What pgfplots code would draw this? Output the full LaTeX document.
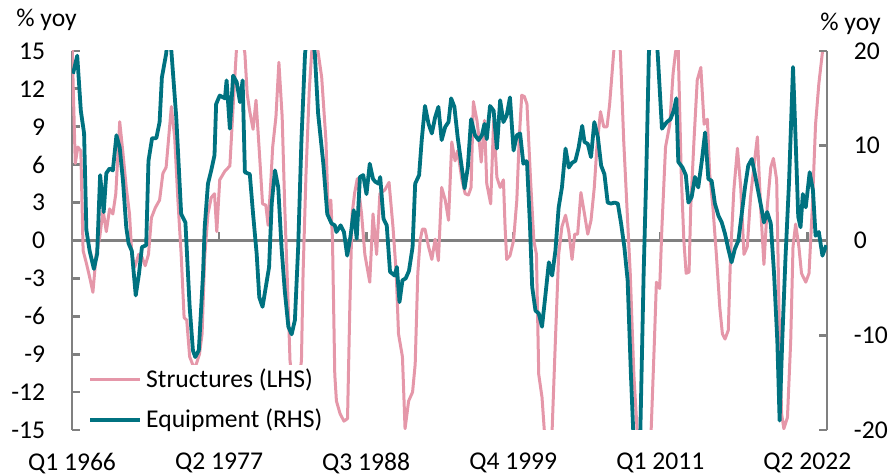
\documentclass[border=0pt]{standalone}
\usepackage{fontspec}
\setmainfont{Carlito}
\usepackage{pgfplots}
\pgfplotsset{compat=1.18}
\definecolor{structpink}{RGB}{229,151,169}
\definecolor{equipteal}{RGB}{0,114,128}
\definecolor{axgray}{RGB}{128,128,128}
\newcommand\fs{\fontsize{12.8pt}{15.4pt}\selectfont}

% x = quarters since Q1 1966
\pgfplotsset{
  base/.style={
    scale only axis, width=377.5pt, height=189.5pt,
    xmin=0, xmax=231,
    tick label style={font=\fs},
  },
}

\begin{document}
\fs
\begin{tikzpicture}
  % zero line with small ticks
  \begin{axis}[
      base, ymin=-1, ymax=1,
      axis x line=middle, axis y line=none,
      x axis line style={-, axgray, line width=1.75pt},
      xtick={45,90,135,180,225}, xticklabels={},
      major tick length=4pt,
      xtick style={axgray, line width=1.4pt, yshift=2pt},
    ]
  \end{axis}

  % structures, left axis
  \begin{axis}[
      base, name=ax,
      axis y line*=left, axis x line*=bottom,
      x axis line style={draw=none},
      xtick={0,45,90,135,180,225},
      xticklabels={Q1 1966,Q2 1977,Q3 1988,Q4 1999,Q1 2011,Q2 2022},
      xtick style={draw=none},
      xticklabel style={yshift=-7pt},
      ymin=-15, ymax=15,
      ytick={-15,-12,-9,-6,-3,0,3,6,9,12,15},
      yticklabels={-15,-12,-9,-6,-3,0,3,6,9,12,15},
      y axis line style={-, axgray, line width=1.4pt},
      ytick style={axgray, line width=1.4pt},
      tick align=inside, major tick length=4pt,
      yticklabel style={xshift=-9pt},
    ]
    \addplot[structpink, line width=1.5pt, line join=round] coordinates {
      (0,15.8)(1.0,6.1)(1.8,7.4)(2.7,7.1)(3.4,-0.8)(4.4,-1.8)(5.4,-2.9)(6.4,-4.1)
      (7.4,-1.1)(8.5,0.3)(9.5,2.4)(10.5,0.7)(11.5,2.5)(12.5,2.1)(13.4,3.7)(14.6,9.4)
      (15.6,6.9)(16.6,4.2)(17.6,2.1)(18.3,-1.1)(19.2,-2.1)(20.4,-1.1)(21.4,-1.3)
      (22.4,-2.0)(23.4,-1.1)(24.3,1.8)(25.5,2.6)(26.8,3.2)(27.8,5.3)(28.8,5.8)
      (30.4,10.6)(31.4,8.2)(32.4,3.2)(33.4,-1.1)(34.3,-6.1)(35.1,-6.3)(36.0,-9.2)
      (37.5,-10.2)(39.0,-9.0)(39.8,-7.4)(40.6,-1.3)(41.6,2.1)(42.6,3.4)(43.6,3.7)
      (44.3,0.7)(45.2,4.8)(46.8,5.5)(48.3,5.9)(49.3,10.6)(50.4,15.5)(51.2,17.5)
      (52.9,14.8)(53.6,11.6)(54.4,10.2)(55.4,8.8)(56.3,11.1)(57.3,7.1)(58.3,2.9)
      (59.3,2.8)(60.0,1.2)(60.8,4.5)(61.4,7.4)(62.4,9.8)(63.3,14.1)(64.3,9.8)
      (65.1,2.6)(66.0,-4.0)(66.7,-9.5)(68.4,-13.5)(70.2,-9.5)(70.7,-2.6)(71.6,5.3)
      (72.6,11.9)(73.3,14.8)(74.3,17.5)(75.3,14.9)(76.4,12.9)(77.7,7.9)(78.4,2.1)
      (79.2,3.2)(79.7,0)(80.4,-10.6)(80.9,-12.7)(82.0,-13.7)(83.2,-14.3)(84.3,-14.1)
      (85.0,-5.3)(85.7,2.1)(86.5,3.8)(87.3,4.9)(88.6,2.1)(89.6,-1.1)(91.1,-3.3)
      (92.1,2.1)(93.2,-1.1)(94.2,3.7)(95.7,4.0)(97.0,4.6)(98.2,1.1)(99.2,-2.6)
      (99.9,-7.4)(101.1,-9.2)(101.9,-14.9)(103.0,-12.7)(104.2,-12.0)(105.0,-9.8)
      (105.8,-2.6)(106.5,0)(107.2,0.9)(108.0,0.9)(109.1,-0.5)(110.1,-1.5)(111.1,0.1)
      (112.1,-1.6)(113.1,4.2)(114.2,3.2)(115.2,1.6)(116.2,7.8)(117.2,6.3)(118.0,7.1)
      (119.3,4.8)(120.3,3.7)(121.3,3.6)(122.1,4.2)(122.8,11.0)(123.9,9.5)(124.4,8.4)
      (125.2,6.2)(126.2,9.5)(126.9,4.5)(128.1,2.9)(129.0,9.5)(130.0,5.0)(131.0,4.2)
      (132.0,4.8)(132.5,1.1)(133.0,-1.5)(134.0,-1.2)(135.1,0)(136.1,3.2)(136.8,7.9)
      (137.6,11.5)(138.4,11.4)(139.2,10.8)(140.3,4.8)(141.3,0)(142.1,-1.1)
      (142.8,-10.6)(143.8,-12.4)(144.5,-15)(145.7,-17)(146.9,-15)(147.9,-7.9)
      (148.9,-1.1)(149.9,1.1)(151.0,2.0)(152.0,0.7)(153.0,-1.5)(153.8,0.5)(154.7,0.5)
      (155.7,3.8)(156.8,2.1)(157.8,0.5)(158.8,1.6)(159.8,4.2)(160.6,7.4)(161.7,10.2)
      (162.7,9.0)(163.7,9.0)(164.5,10.8)(165.7,14.8)(166.8,18)(167.8,14.8)(168.8,7.9)
      (169.8,2.6)(170.8,-2.6)(171.9,-10.6)(172.9,-15)(175.0,-21)(177.2,-15)
      (178.2,-7.9)(178.8,-3.3)(179.8,-3.8)(180.5,1.1)(181.6,7.4)(182.9,9.2)
      (183.9,13.2)(184.6,14.8)(185.4,16)(186.4,5.3)(187.2,0)(187.9,-2.6)(188.8,-2.5)
      (189.3,2.6)(190.3,7.9)(191.3,12.7)(192.4,13.7)(193.4,9.2)(194.4,9.6)(195.1,5.3)
      (196.1,2.6)(197.2,-1.3)(198.2,-5.3)(199.0,-7.4)(199.8,-7.8)(200.8,-7.1)
      (201.5,-1.1)(202.5,4.0)(203.6,7.3)(204.6,4.2)(205.6,-1.1)(206.6,-0.5)(207.6,3.4)
      (208.6,5.8)(209.7,8.2)(210.7,2.6)(211.7,-1.9)(212.7,2.6)(213.8,5.8)(214.6,6.5)
      (215.6,4.8)(216.3,-5.3)(217.1,-13.7)(217.8,-14.9)(218.9,-14.0)(219.9,-7.9)
      (220.6,-0.5)(221.4,1.3)(222.4,-0.5)(223.2,-2.6)(224.5,-3.3)(225.5,-2.6)
      (226.5,2.6)(227.5,9.2)(228.5,12.4)(229.6,14.9)(231,17.5)
    };
  \end{axis}

  % equipment, right axis
  \begin{axis}[
      base,
      axis y line*=right, axis x line=none,
      ymin=-20, ymax=20,
      ytick={-20,-10,0,10,20}, yticklabels={-20,-10,0,10,20},
      y axis line style={-, axgray, line width=1.4pt},
      ytick style={axgray, line width=1.4pt},
      tick align=inside, major tick length=4pt,
      yticklabel style={xshift=9pt},
      legend cell align=left,
      legend image code/.code={\draw[#1] (0pt,0pt) -- (25pt,0pt);},
      legend style={at={(axis description cs:0,0.187)}, anchor=north west,
        xshift=8pt, yshift=-2.5pt, fill=white, draw=none, inner sep=0pt,
        row sep=5pt, nodes={inner xsep=2pt}, font=\fs},
    ]
    \addlegendimage{structpink, line width=1.6pt}
    \addlegendentry{Structures (LHS)}
    \addplot[equipteal, line width=1.9pt, line join=round] coordinates {
      (0.3,17.6)(1.6,19.5)(2.7,13.7)(3.7,11.3)(4.4,1.1)(5.4,-1.1)(6.7,-3.0)(7.7,-1.4)
      (8.6,6.9)(9.7,3.0)(10.5,7.1)(11.5,7.6)(12.5,7.4)(13.6,11.1)(14.6,9.8)(15.6,6.3)
      (16.6,1.4)(17.3,-0.3)(18.3,-1.1)(19.5,-5.8)(20.5,-3.5)(21.4,-0.7)(22.7,-0.5)
      (23.4,8.4)(24.5,10.8)(25.8,10.8)(26.8,12.5)(27.5,17.2)(28.8,19.7)(29.6,22.5)
      (30.4,20.0)(31.9,13.0)(33.4,2.8)(34.7,1.9)(36.0,-7.0)(37.0,-11.6)(37.7,-12.3)
      (38.8,-11.6)(40.1,-3.5)(40.6,1.4)(41.6,6.0)(42.6,7.4)(43.6,9.0)(44.1,14.4)
      (45.2,15.3)(46.8,15.0)(47.3,16.9)(48.3,11.8)(49.3,17.4)(50.4,16.7)(51.4,14.6)
      (52.2,16.9)(52.9,7.2)(54.4,7.0)(55.4,2.8)(56.5,-1.4)(57.3,-6.0)(58.3,-7.0)
      (60.3,-2.8)(61.1,3.9)(62.1,7.4)(63.1,5.6)(64.1,-0.7)(65.1,-5.3)(66.2,-9.1)
      (67.2,-9.9)(68.2,-8.4)(69.2,-0.7)(70.2,10.6)(71.3,19.7)(72.7,24)(74.3,19.7)
      (75.3,13.4)(76.9,8.1)(78.1,2.8)(79.4,1.8)(80.4,1.6)(80.9,0.9)(82.2,1.6)(83.2,0.9)
      (84.2,-1.6)(85.2,0.4)(86.2,3.2)(87.1,0.2)(88.1,6.7)(89.1,6.9)(90.1,4.9)(91.1,8.1)
      (92.1,6.5)(92.8,6.2)(93.8,6.0)(94.3,6.7)(95.3,2.3)(96.3,1.6)(97.3,-3.3)(98.7,-3.7)
      (99.4,-2.8)(100.2,-6.5)(101.1,-4.2)(102.1,-4.0)(103.1,-3.2)(104.2,-0.7)(105.0,6.0)
      (106.2,6.9)(107.0,10.6)(108.0,14.2)(109.1,12.3)(110.1,11.3)(111.1,13.0)
      (112.1,14.1)(113.1,10.6)(114.2,12.0)(115.2,12.5)(116.0,15.0)(117.0,14.1)
      (118.0,10.9)(119.1,8.1)(120.1,5.5)(121.1,7.7)(122.1,12.8)(123.3,11.1)(124.4,10.6)
      (125.4,11.1)(126.2,12.3)(126.9,10.7)(127.9,14.2)(129.0,13.7)(130.0,9.7)
      (131.0,14.8)(132.0,12.5)(133.0,13.2)(134.0,15.1)(135.1,9.5)(136.1,11.1)
      (137.1,11.3)(138.1,8.1)(138.8,8.4)(139.2,8.3)(140.1,1.8)(140.8,-4.9)(141.8,-7.4)
      (142.8,-7.7)(143.8,-9.1)(144.9,-5.6)(145.9,-2.3)(146.9,-3.7)(147.9,-1.1)
      (148.9,3.5)(149.9,5.6)(151.0,9.7)(152.0,7.7)(153.0,8.2)(154.0,8.4)(155.0,9.8)
      (156.1,12.1)(156.8,10.4)(157.8,10.2)(158.8,8.8)(159.8,12.5)(160.9,10.9)
      (161.9,7.9)(162.9,7.0)(163.9,4.0)(164.9,3.9)(166.0,4.0)(167.0,3.9)(168.0,1.8)
      (169.0,-0.7)(170.0,-4.2)(171.0,-14.1)(171.7,-20)(172.8,-24)(173.9,-20)
      (174.9,-3.5)(175.7,7.0)(176.5,19.7)(177.8,26)(179.2,19.7)(180.5,11.8)(182.0,12.5)
      (183.1,12.8)(184.1,13.7)(184.9,15.0)(185.5,8.3)(186.8,7.7)(187.8,6.9)(188.6,4.0)
      (189.6,4.6)(190.6,6.7)(191.6,5.6)(192.7,8.4)(193.7,11.4)(194.7,6.5)(195.7,6.3)
      (196.7,3.9)(197.8,2.6)(198.8,1.9)(199.8,0.7)(200.8,-0.9)(201.8,-2.3)(202.8,-0.9)
      (203.9,0)(204.9,2.8)(205.9,5.6)(206.9,7.9)(208.0,8.6)(209.0,6.9)(210.0,5.1)
      (211.0,3.3)(211.7,1.9)(212.7,3.0)(213.8,1.8)(214.8,-3.5)(215.8,-10.6)(216.5,-19.0)
      (217.3,-10.6)(218.3,-1.8)(219.4,6.3)(220.6,18.3)(221.4,10.6)(222.2,2.5)
      (222.9,1.4)(223.6,4.9)(224.5,3.5)(225.7,7.2)(226.7,5.3)(227.5,0.5)(228.5,0.9)
      (229.6,-1.6)(230.8,-0.5)
    };
    \addlegendentry{Equipment (RHS)}
  \end{axis}

  \node[anchor=base west, inner sep=0pt, font=\fs] at ([xshift=-28pt,yshift=12pt]ax.north west) {\% yoy};
  \node[anchor=base west, inner sep=0pt, font=\fs] at ([xshift=-3.5pt,yshift=10pt]ax.north east) {\% yoy};

  \pgfresetboundingbox
  \useasboundingbox ([xshift=-36pt,yshift=-22.5pt]ax.south west)
    rectangle ([xshift=31pt,yshift=25.5pt]ax.north east);
\end{tikzpicture}
\end{document}
